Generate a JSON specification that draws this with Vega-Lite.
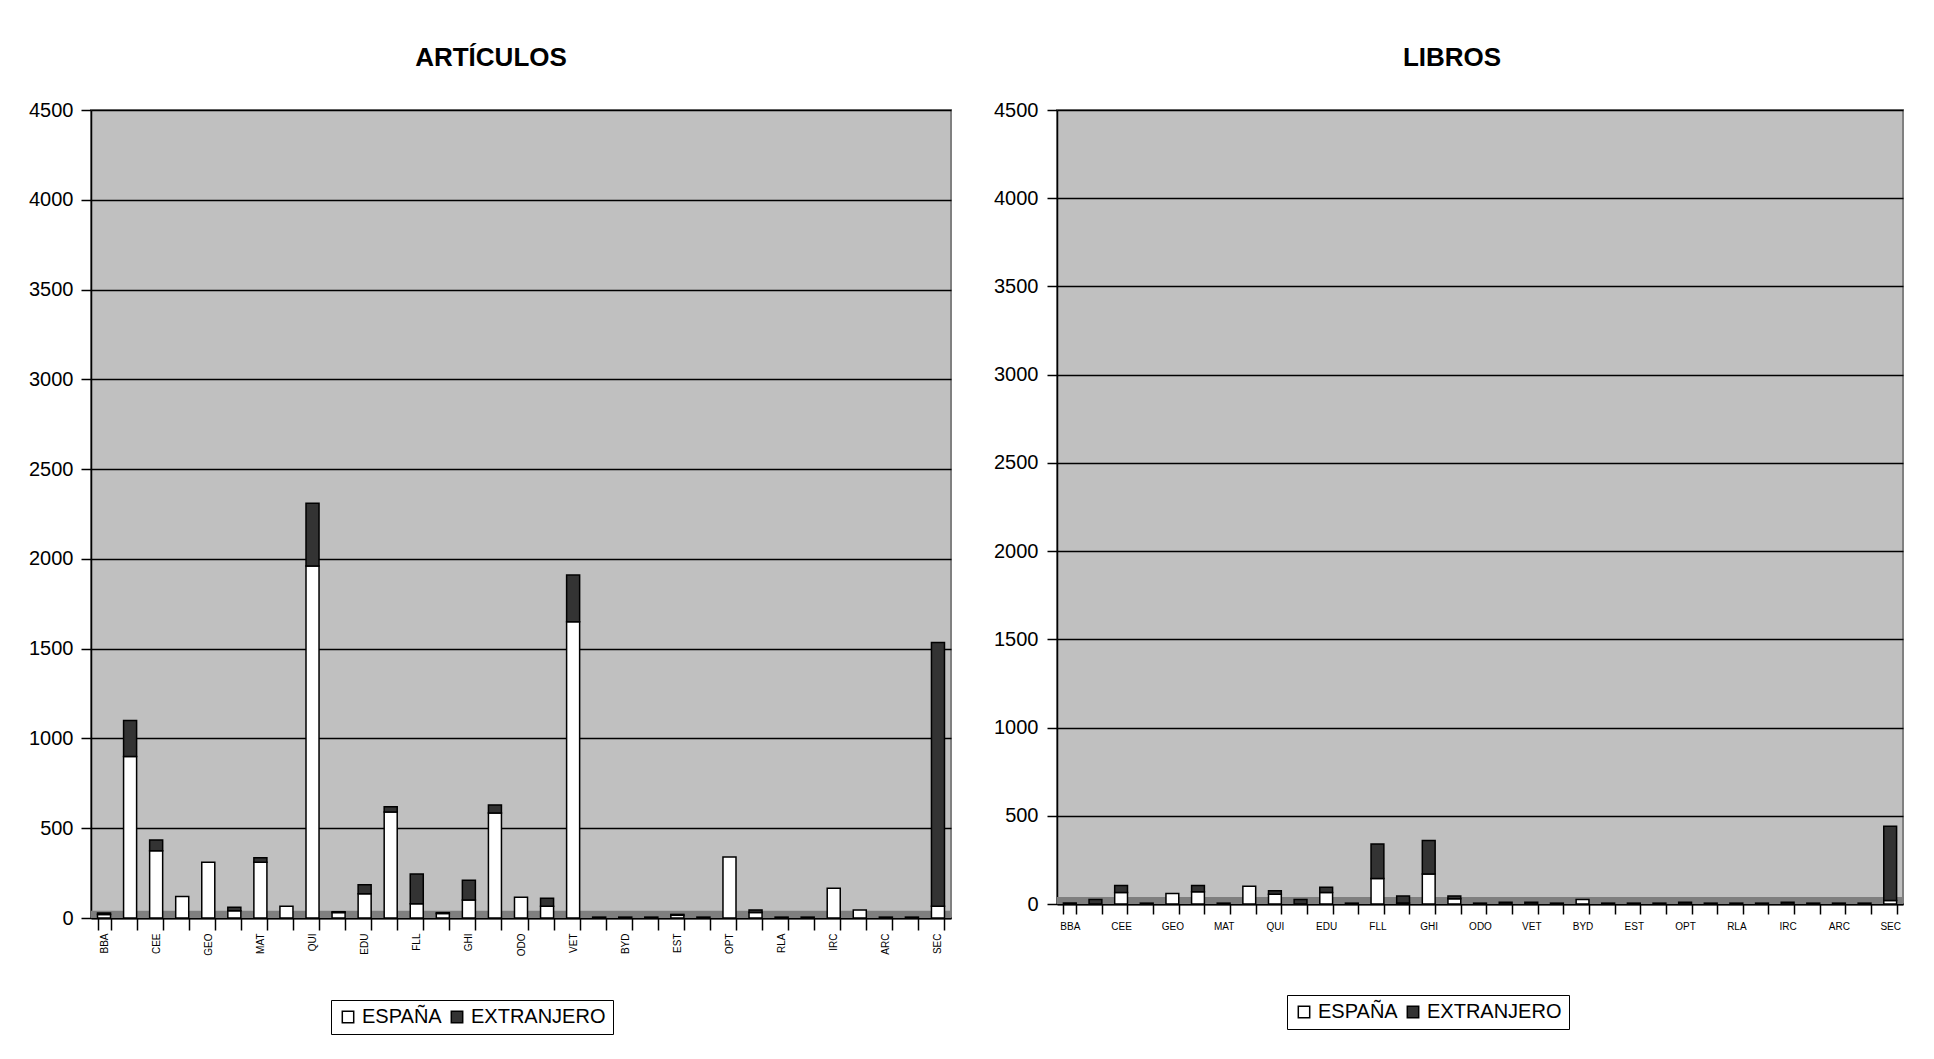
{
  "$schema": "https://vega.github.io/schema/vega-lite/v6.json",
  "background": "white",
  "padding": {"left": 5, "top": 44, "right": 5, "bottom": 5},
  "spacing": 34,
  "config": {
    "font": "Liberation Sans",
    "view": {"fill": "#c0c0c0", "stroke": "#808080", "strokeWidth": 2},
    "axis": {"labelFont": "Liberation Sans", "labelColor": "black", "tickColor": "black", "domainColor": "black", "title": null}
  },
  "resolve": {"scale": {"color": "independent"}, "legend": {"color": "independent"}},
  "datasets": {
    "articulos": [
      {"n": 1, "origen": "ESPAÑA", "valor": 20}, {"n": 1, "origen": "EXTRANJERO", "valor": 8},
      {"n": 2, "origen": "ESPAÑA", "valor": 900}, {"n": 2, "origen": "EXTRANJERO", "valor": 200},
      {"n": 3, "origen": "ESPAÑA", "valor": 375}, {"n": 3, "origen": "EXTRANJERO", "valor": 60},
      {"n": 4, "origen": "ESPAÑA", "valor": 120},
      {"n": 5, "origen": "ESPAÑA", "valor": 310},
      {"n": 6, "origen": "ESPAÑA", "valor": 40}, {"n": 6, "origen": "EXTRANJERO", "valor": 20},
      {"n": 7, "origen": "ESPAÑA", "valor": 310}, {"n": 7, "origen": "EXTRANJERO", "valor": 25},
      {"n": 8, "origen": "ESPAÑA", "valor": 65},
      {"n": 9, "origen": "ESPAÑA", "valor": 1960}, {"n": 9, "origen": "EXTRANJERO", "valor": 350},
      {"n": 10, "origen": "ESPAÑA", "valor": 30}, {"n": 10, "origen": "EXTRANJERO", "valor": 5},
      {"n": 11, "origen": "ESPAÑA", "valor": 135}, {"n": 11, "origen": "EXTRANJERO", "valor": 50},
      {"n": 12, "origen": "ESPAÑA", "valor": 590}, {"n": 12, "origen": "EXTRANJERO", "valor": 30},
      {"n": 13, "origen": "ESPAÑA", "valor": 80}, {"n": 13, "origen": "EXTRANJERO", "valor": 165},
      {"n": 14, "origen": "ESPAÑA", "valor": 25}, {"n": 14, "origen": "EXTRANJERO", "valor": 5},
      {"n": 15, "origen": "ESPAÑA", "valor": 100}, {"n": 15, "origen": "EXTRANJERO", "valor": 110},
      {"n": 16, "origen": "ESPAÑA", "valor": 585}, {"n": 16, "origen": "EXTRANJERO", "valor": 45},
      {"n": 17, "origen": "ESPAÑA", "valor": 115},
      {"n": 18, "origen": "ESPAÑA", "valor": 65}, {"n": 18, "origen": "EXTRANJERO", "valor": 45},
      {"n": 19, "origen": "ESPAÑA", "valor": 1650}, {"n": 19, "origen": "EXTRANJERO", "valor": 260},
      {"n": 20, "origen": "EXTRANJERO", "valor": 5},
      {"n": 21, "origen": "ESPAÑA", "valor": 5},
      {"n": 22, "origen": "ESPAÑA", "valor": 5},
      {"n": 23, "origen": "ESPAÑA", "valor": 15}, {"n": 23, "origen": "EXTRANJERO", "valor": 5},
      {"n": 24, "origen": "ESPAÑA", "valor": 5},
      {"n": 25, "origen": "ESPAÑA", "valor": 340},
      {"n": 26, "origen": "ESPAÑA", "valor": 30}, {"n": 26, "origen": "EXTRANJERO", "valor": 15},
      {"n": 27, "origen": "EXTRANJERO", "valor": 5},
      {"n": 28, "origen": "ESPAÑA", "valor": 5},
      {"n": 29, "origen": "ESPAÑA", "valor": 165},
      {"n": 30, "origen": "ESPAÑA", "valor": 45},
      {"n": 31, "origen": "ESPAÑA", "valor": 5},
      {"n": 32, "origen": "ESPAÑA", "valor": 5},
      {"n": 33, "origen": "ESPAÑA", "valor": 65}, {"n": 33, "origen": "EXTRANJERO", "valor": 1470}
    ],
    "libros": [
      {"n": 1, "origen": "EXTRANJERO", "valor": 5},
      {"n": 2, "origen": "EXTRANJERO", "valor": 25},
      {"n": 3, "origen": "ESPAÑA", "valor": 65}, {"n": 3, "origen": "EXTRANJERO", "valor": 40},
      {"n": 4, "origen": "EXTRANJERO", "valor": 5},
      {"n": 5, "origen": "ESPAÑA", "valor": 60},
      {"n": 6, "origen": "ESPAÑA", "valor": 70}, {"n": 6, "origen": "EXTRANJERO", "valor": 35},
      {"n": 7, "origen": "EXTRANJERO", "valor": 5},
      {"n": 8, "origen": "ESPAÑA", "valor": 100},
      {"n": 9, "origen": "ESPAÑA", "valor": 55}, {"n": 9, "origen": "EXTRANJERO", "valor": 20},
      {"n": 10, "origen": "EXTRANJERO", "valor": 25},
      {"n": 11, "origen": "ESPAÑA", "valor": 65}, {"n": 11, "origen": "EXTRANJERO", "valor": 30},
      {"n": 12, "origen": "EXTRANJERO", "valor": 5},
      {"n": 13, "origen": "ESPAÑA", "valor": 145}, {"n": 13, "origen": "EXTRANJERO", "valor": 195},
      {"n": 14, "origen": "ESPAÑA", "valor": 5}, {"n": 14, "origen": "EXTRANJERO", "valor": 40},
      {"n": 15, "origen": "ESPAÑA", "valor": 170}, {"n": 15, "origen": "EXTRANJERO", "valor": 190},
      {"n": 16, "origen": "ESPAÑA", "valor": 30}, {"n": 16, "origen": "EXTRANJERO", "valor": 15},
      {"n": 17, "origen": "EXTRANJERO", "valor": 5},
      {"n": 18, "origen": "EXTRANJERO", "valor": 10},
      {"n": 19, "origen": "EXTRANJERO", "valor": 10},
      {"n": 20, "origen": "EXTRANJERO", "valor": 5},
      {"n": 21, "origen": "ESPAÑA", "valor": 25},
      {"n": 22, "origen": "EXTRANJERO", "valor": 5},
      {"n": 23, "origen": "EXTRANJERO", "valor": 5},
      {"n": 24, "origen": "EXTRANJERO", "valor": 5},
      {"n": 25, "origen": "EXTRANJERO", "valor": 10},
      {"n": 26, "origen": "EXTRANJERO", "valor": 5},
      {"n": 27, "origen": "EXTRANJERO", "valor": 5},
      {"n": 28, "origen": "EXTRANJERO", "valor": 5},
      {"n": 29, "origen": "EXTRANJERO", "valor": 10},
      {"n": 30, "origen": "EXTRANJERO", "valor": 5},
      {"n": 31, "origen": "EXTRANJERO", "valor": 5},
      {"n": 32, "origen": "EXTRANJERO", "valor": 5},
      {"n": 33, "origen": "ESPAÑA", "valor": 20}, {"n": 33, "origen": "EXTRANJERO", "valor": 420}
    ]
  },
  "hconcat": [
    {
      "width": 860,
      "height": 808,
      "title": {"text": "ARTÍCULOS", "fontSize": 26, "fontWeight": "bold", "font": "Liberation Sans", "color": "black", "anchor": "middle", "frame": "group", "dx": -30, "offset": 29},
      "layer": [
        {
          "data": {"values": [{}]},
          "mark": {"type": "rect", "fill": "#7f7f7f"},
          "encoding": {
            "y": {"datum": 0, "type": "quantitative", "scale": {"domain": [0, 4500], "nice": false}},
            "y2": {"datum": 40}
          }
        },
        {
          "data": {"name": "articulos"},
          "mark": {"type": "bar", "stroke": "black", "strokeWidth": 1.5},
          "encoding": {
            "x": {
              "field": "n", "type": "ordinal",
              "scale": {"paddingInner": 0.5, "paddingOuter": 0.25},
              "axis": {
                "labelExpr": "['BBA','','CEE','','GEO','','MAT','','QUI','','EDU','','FLL','','GHI','','ODO','','VET','','BYD','','EST','','OPT','','RLA','','IRC','','ARC','','SEC'][datum.value-1]",
                "labelAngle": -90, "labelFontSize": 10, "tickBand": "extent", "tickSize": 12, "labelPadding": 3,
                "domainWidth": 2, "tickWidth": 1.5, "title": null
              }
            },
            "y": {
              "field": "valor", "type": "quantitative", "stack": "zero",
              "scale": {"domain": [0, 4500], "nice": false},
              "axis": {
                "values": [0, 500, 1000, 1500, 2000, 2500, 3000, 3500, 4000, 4500], "format": "d",
                "labelFontSize": 20, "tickSize": 10, "labelPadding": 8, "minExtent": 85, "maxExtent": 85,
                "grid": true, "gridColor": "black", "gridWidth": 1.5, "gridOpacity": 1,
                "domainWidth": 1.5, "tickWidth": 1.5, "title": null
              }
            },
            "order": {"field": "origen", "sort": "ascending"},
            "color": {
              "field": "origen", "type": "nominal",
              "scale": {"domain": ["ESPAÑA", "EXTRANJERO"], "range": ["#ffffff", "#333333"]},
              "legend": {
                "title": null, "orient": "none", "legendX": 240, "legendY": 890, "direction": "horizontal",
                "symbolType": "square", "symbolSize": 130, "symbolStrokeColor": "black", "symbolStrokeWidth": 1.5,
                "labelFontSize": 20, "labelFont": "Liberation Sans", "labelColor": "black", "labelOffset": 4,
                "strokeColor": "black", "fillColor": "white", "padding": 7, "columnPadding": 5
              }
            }
          }
        }
      ]
    },
    {
      "width": 846,
      "height": 794,
      "title": {"text": "LIBROS", "fontSize": 26, "fontWeight": "bold", "font": "Liberation Sans", "color": "black", "anchor": "middle", "frame": "group", "dx": -28, "offset": 29},
      "layer": [
        {
          "data": {"values": [{}]},
          "mark": {"type": "rect", "fill": "#7f7f7f"},
          "encoding": {
            "y": {"datum": 0, "type": "quantitative", "scale": {"domain": [0, 4500], "nice": false}},
            "y2": {"datum": 40}
          }
        },
        {
          "data": {"name": "libros"},
          "mark": {"type": "bar", "stroke": "black", "strokeWidth": 1.5},
          "encoding": {
            "x": {
              "field": "n", "type": "ordinal",
              "scale": {"paddingInner": 0.5, "paddingOuter": 0.25},
              "axis": {
                "labelExpr": "['BBA','','CEE','','GEO','','MAT','','QUI','','EDU','','FLL','','GHI','','ODO','','VET','','BYD','','EST','','OPT','','RLA','','IRC','','ARC','','SEC'][datum.value-1]",
                "labelAngle": 0, "labelFontSize": 10, "tickBand": "extent", "tickSize": 10, "labelPadding": 7,
                "domainWidth": 2, "tickWidth": 1.5, "title": null
              }
            },
            "y": {
              "field": "valor", "type": "quantitative", "stack": "zero",
              "scale": {"domain": [0, 4500], "nice": false},
              "axis": {
                "values": [0, 500, 1000, 1500, 2000, 2500, 3000, 3500, 4000, 4500], "format": "d",
                "labelFontSize": 20, "tickSize": 10, "labelPadding": 9, "minExtent": 70, "maxExtent": 70,
                "grid": true, "gridColor": "black", "gridWidth": 1.5, "gridOpacity": 1,
                "domainWidth": 1.5, "tickWidth": 1.5, "title": null
              }
            },
            "order": {"field": "origen", "sort": "ascending"},
            "color": {
              "field": "origen", "type": "nominal",
              "scale": {"domain": ["ESPAÑA", "EXTRANJERO"], "range": ["#ffffff", "#333333"]},
              "legend": {
                "title": null, "orient": "none", "legendX": 230, "legendY": 885, "direction": "horizontal",
                "symbolType": "square", "symbolSize": 130, "symbolStrokeColor": "black", "symbolStrokeWidth": 1.5,
                "labelFontSize": 20, "labelFont": "Liberation Sans", "labelColor": "black", "labelOffset": 4,
                "strokeColor": "black", "fillColor": "white", "padding": 7, "columnPadding": 5
              }
            }
          }
        }
      ]
    }
  ]
}
